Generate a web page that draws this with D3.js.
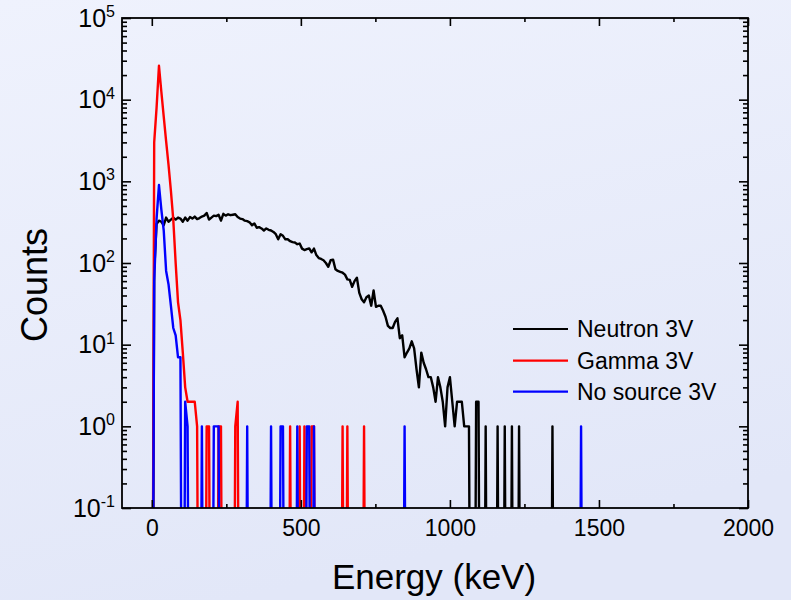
<!DOCTYPE html>
<html><head><meta charset="utf-8">
<script src="https://cdn.jsdelivr.net/npm/d3@7"></script>
<style>
html,body{margin:0;padding:0;}
svg{display:block;font-family:Arial,"Liberation Sans",sans-serif;}
</style>
</head><body>
<script>
// ---------- data (counts per 8 keV bin, bin k at energy k*8 keV) ----------
const binWidthKeV = 8;
const neutronCounts = [0,80,300,330,320,290,360,320,340,360,340,360,350,320,360,330,365,350,370,345,
  355,370,380,410,340,360,380,375,390,330,400,380,395,385,390,395,365,350,345,330,
  325,315,290,305,270,275,265,250,265,255,250,240,225,195,225,215,195,195,185,180,
  178,170,173,150,144,148,151,135,150,125,115,112,108,100,90,108,110,84,80,78,
  76,72,63,62,51,60,66,43,36,33,38,40,30,46,29,30,30,26,22,17,
  16,16,19,21,12,13,7,8,9,11,9,5,3,8,6,5,4,4,3,2,
  4,3,2,1,3,4,2,1,2,2,2,1,1,1];
const neutronSpikeEnergy = [1088,1096,1120,1160,1184,1208,1232,1344];
const neutronSpikeCounts = [2,2,1,1,1,1,1,1];

const gammaCounts = [0,3000,8000,26000,12500,6200,3100,1600,770,340,100,33,20,8,3,2,2,2,2,1];
const gammaSpikeEnergy = [184,192,224,232,280,288,464,496,512,536,544,640,656,712];
const gammaSpikeCounts = [1,1,1,1,1,2,1,1,1,1,1,1,1,1];

const noSourceCounts = [0,60,350,900,450,250,80,55,30,16,13,7,7,0,2,1];
const noSourceSpikeEnergy = [168,208,216,224,320,400,432,440,488,520,528,544,848,1440];
const noSourceSpikeCounts = [1,1,1,1,1,1,1,1,1,1,1,1,1,1];

const seriesNames = ["Neutron 3V","Gamma 3V","No source 3V"];
const seriesColors = ["#000000","#ff0000","#0000ff"];

const xMajorTicks = [0,500,1000,1500,2000];
const xMinorTicks = [250,750,1250,1750];
const yExponents = [-1,0,1,2,3,4,5];
const xTitle = "Energy (keV)";
const yTitle = "Counts";

// ---------- build series tables ----------
const maxEnergy = 2000;
function buildSeries(body, spikeE, spikeC){
  const n = Math.round(maxEnergy/binWidthKeV)+1;
  const arr = new Array(n).fill(0);
  body.forEach((v,i)=>{arr[i]=v;});
  spikeE.forEach((e,i)=>{arr[Math.round(e/binWidthKeV)] = spikeC[i];});
  return arr.map((v,i)=>({e:i*binWidthKeV, v:v}));
}
const series = [
  buildSeries(neutronCounts, neutronSpikeEnergy, neutronSpikeCounts),
  buildSeries(gammaCounts, gammaSpikeEnergy, gammaSpikeCounts),
  buildSeries(noSourceCounts, noSourceSpikeEnergy, noSourceSpikeCounts)
];

// ---------- layout ----------
const W=791, H=600;
const L=122, R=748, T=18, B=508;
const x = d3.scaleLinear().domain([-100,2000]).range([L,R]);
const y = d3.scaleLog().domain([0.1,1e5]).range([B,T]);

const svg = d3.select("body").append("svg").attr("width",W).attr("height",H);
const defs = svg.append("defs");
const grad = defs.append("linearGradient").attr("id","bg").attr("x1","0").attr("y1","0").attr("x2","0.3").attr("y2","1");
grad.append("stop").attr("offset","0").attr("stop-color","#eff2fd");
grad.append("stop").attr("offset","1").attr("stop-color","#e2e7f8");
svg.append("rect").attr("width",W).attr("height",H).attr("fill","url(#bg)");

defs.append("clipPath").attr("id","plotclip").append("rect")
  .attr("x",L).attr("y",T).attr("width",R-L).attr("height",B-T);

// ---------- data lines ----------
const line = d3.line().x(d=>x(d.e)).y(d=>y(d.v>0?d.v:1e-6));
const gLines = svg.append("g").attr("clip-path","url(#plotclip)");
series.forEach((s,i)=>{
  gLines.append("path").datum(s).attr("d",line)
    .attr("fill","none").attr("stroke",seriesColors[i]).attr("stroke-width",2.4)
    .attr("stroke-linejoin","round");
});

// ---------- axes ----------
const yMinor = [];
yExponents.slice(0,-1).forEach(p=>{for(let m=2;m<=9;m++) yMinor.push(m*Math.pow(10,p));});
const yMajor = yExponents.map(p=>Math.pow(10,p));
const FONT = "Arial,'Liberation Sans',sans-serif";

function styleAxis(g){
  g.select(".domain").remove();
  g.selectAll(".tick line").attr("stroke","#000").attr("stroke-width",1.6);
  g.selectAll(".tick text").attr("fill","#000");
}
// bottom
svg.append("g").attr("transform",`translate(0,${B})`)
  .call(d3.axisBottom(x).tickValues(xMajorTicks).tickSize(-8).tickPadding(12).tickFormat(d3.format("d")))
  .call(styleAxis).selectAll("text").attr("font-size","23px").attr("font-family",FONT);
svg.append("g").attr("transform",`translate(0,${B})`)
  .call(d3.axisBottom(x).tickValues(xMinorTicks).tickSize(-4).tickFormat(""))
  .call(styleAxis);
// top
svg.append("g").attr("transform",`translate(0,${T})`)
  .call(d3.axisTop(x).tickValues(xMajorTicks).tickSize(-8).tickFormat(""))
  .call(styleAxis);
svg.append("g").attr("transform",`translate(0,${T})`)
  .call(d3.axisTop(x).tickValues(xMinorTicks).tickSize(-4).tickFormat(""))
  .call(styleAxis);
// left
const gLeft = svg.append("g").attr("transform",`translate(${L},0)`)
  .call(d3.axisLeft(y).tickValues(yMajor).tickSize(-9).tickPadding(7))
  .call(styleAxis);
gLeft.selectAll(".tick text").each(function(d){
  const t = d3.select(this);
  const p = Math.round(Math.log10(d));
  t.text(null).attr("font-size","25px").attr("font-family",FONT);
  t.append("tspan").text("10");
  t.append("tspan").attr("dy","-0.6em").attr("font-size","16px").text(p);
});
svg.append("g").attr("transform",`translate(${L},0)`)
  .call(d3.axisLeft(y).tickValues(yMinor).tickSize(-5).tickFormat(""))
  .call(styleAxis);
// right
svg.append("g").attr("transform",`translate(${R},0)`)
  .call(d3.axisRight(y).tickValues(yMajor).tickSize(-9).tickFormat(""))
  .call(styleAxis);
svg.append("g").attr("transform",`translate(${R},0)`)
  .call(d3.axisRight(y).tickValues(yMinor).tickSize(-5).tickFormat(""))
  .call(styleAxis);

// frame
svg.append("rect").attr("x",L).attr("y",T).attr("width",R-L).attr("height",B-T)
  .attr("fill","none").attr("stroke","#000").attr("stroke-width",1.8);

// titles
svg.append("text").attr("x",(L+R)/2 - 1).attr("y",589).attr("text-anchor","middle")
  .attr("font-size","35px").attr("font-family",FONT).attr("fill","#000").text(xTitle);
svg.append("text").attr("transform","translate(47,285) rotate(-90)").attr("text-anchor","middle")
  .attr("font-size","36px").attr("font-family",FONT).attr("fill","#000").text(yTitle);

// legend
const legY = [329,360.7,391.7];
seriesNames.forEach((name,i)=>{
  svg.append("line").attr("x1",513).attr("x2",568).attr("y1",legY[i]).attr("y2",legY[i])
    .attr("stroke",seriesColors[i]).attr("stroke-width",2.2);
  svg.append("text").attr("x",577).attr("y",legY[i]).attr("dy","0.35em")
    .attr("font-size","23px").attr("font-family",FONT).attr("fill","#000").text(name);
});
</script>
</body></html>
